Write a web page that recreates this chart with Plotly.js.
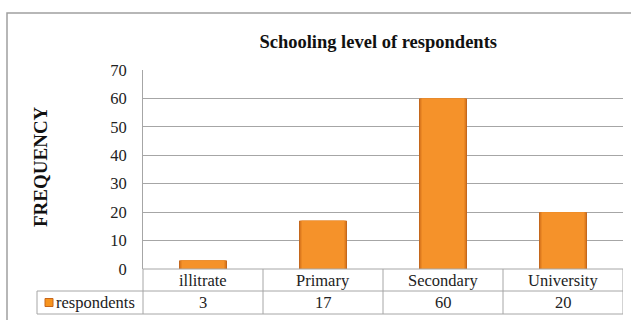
<!DOCTYPE html>
<html>
<head>
<meta charset="utf-8">
<script src="https://cdn.plot.ly/plotly-3.0.1.min.js"></script>
<style>html,body{margin:0;padding:0;background:#fff;}#chart{width:631px;height:320px;}</style>
</head>
<body>
<div id="chart"></div>
<script>
var categories = ["illitrate", "Primary", "Secondary", "University"];
var respondents = [3, 17, 60, 20];
var seriesName = "respondents";
var yTicks = [0, 10, 20, 30, 40, 50, 60, 70];

var W = 631, H = 320;
var L = 143, R = 8, T = 70, B = 51;
var pw = W - L - R, ph = H - T - B;
function px(x) { return (x - L) / pw; }
function py(y) { return (H - B - y) / ph; }

var FONT = "Liberation Serif, Times New Roman, serif";
var gridCol = "#A6A6A6";
var TXT = 16.5;

var shapes = [];
var annotations = [];
// outer chart border
shapes.push({type: "rect", xref: "paper", yref: "paper", x0: px(7), x1: px(640), y0: py(13), y1: py(330),
  line: {color: "#A0A0A0", width: 1.5}, layer: "below"});
// table lines
var rowTop = 269, rowMid = 291, rowBot = 314, tableLeft = 37;
function hline(x0, x1, y) { shapes.push({type: "line", xref: "paper", yref: "paper", x0: x0, x1: x1, y0: py(y), y1: py(y), line: {color: gridCol, width: 1}}); }
hline(0, 1, rowTop);
hline(px(tableLeft), 1, rowMid);
hline(px(tableLeft), 1, rowBot);
shapes.push({type: "line", xref: "paper", yref: "paper", x0: px(tableLeft), x1: px(tableLeft), y0: py(rowMid), y1: py(rowBot), line: {color: gridCol, width: 1}});
shapes.push({type: "line", xref: "paper", yref: "paper", x0: 0, x1: 0, y0: py(rowTop), y1: py(rowBot), line: {color: gridCol, width: 1}});
for (var i = 0; i < categories.length; i++) {
  shapes.push({type: "line", xref: "x", yref: "paper", x0: i + 0.5, x1: i + 0.5, y0: py(rowTop), y1: py(rowBot), line: {color: gridCol, width: 1}});
  annotations.push({xref: "x", yref: "paper", x: categories[i], y: py((rowTop + rowMid) / 2), text: categories[i],
    showarrow: false, xanchor: "center", yanchor: "middle", font: {family: FONT, size: TXT, color: "#222"}});
  annotations.push({xref: "x", yref: "paper", x: categories[i], y: py((rowMid + rowBot) / 2), text: String(respondents[i]),
    showarrow: false, xanchor: "center", yanchor: "middle", font: {family: FONT, size: TXT, color: "#222"}});
}
// legend key in table
shapes.push({type: "rect", xref: "paper", yref: "paper", x0: px(45), x1: px(53), y0: py(306.5), y1: py(298.5),
  fillcolor: "#F7941E", line: {color: "#C8661A", width: 1}});
annotations.push({xref: "paper", yref: "paper", x: px(54), y: py((rowMid + rowBot) / 2), text: seriesName,
  showarrow: false, xanchor: "left", yanchor: "middle", font: {family: FONT, size: TXT, color: "#222"}});
// y axis title
annotations.push({xref: "paper", yref: "paper", x: px(40), y: py(167), text: "<b>FREQUENCY</b>", textangle: -90,
  showarrow: false, xanchor: "center", yanchor: "middle", font: {family: FONT, size: 19, color: "#111"}});

// bars: layered to imitate the shaded edges of the original
var layers = [
  {w: 0.40, c: "#C2661C"},
  {w: 0.385, c: "#DA781F"},
  {w: 0.37, c: "#EA8724"},
  {w: 0.35, c: "#F5922A"}
];
var traces = layers.map(function (ly) {
  return {type: "bar", x: categories, y: respondents, name: seriesName, width: ly.w,
    marker: {color: ly.c, line: {width: 0}}, hoverinfo: "x+y"};
});

var layout = {
  width: W, height: H,
  margin: {l: L, r: R, t: T, b: B, pad: 0},
  paper_bgcolor: "#fff", plot_bgcolor: "#fff",
  showlegend: false,
  barmode: "overlay",
  title: {text: "<b>Schooling level of respondents</b>", x: 0.49, xref: "paper", xanchor: "center",
    y: (H - 42) / H, yanchor: "middle", font: {family: FONT, size: 18.5, color: "#111"}},
  xaxis: {type: "category", range: [-0.5, categories.length - 0.5], showticklabels: false, ticks: "",
    showgrid: false, zeroline: false, showline: false, fixedrange: true},
  yaxis: {range: [0, 70], tickvals: yTicks, ticktext: yTicks.map(String), showgrid: true, gridcolor: gridCol, gridwidth: 1,
    zeroline: false, showline: true, linecolor: gridCol, linewidth: 1, ticks: "", ticklabelstandoff: 12,
    tickfont: {family: FONT, size: TXT, color: "#222"}, fixedrange: true},
  shapes: shapes,
  annotations: annotations
};

Plotly.newPlot("chart", traces, layout, {staticPlot: true, displayModeBar: false});
</script>
</body>
</html>
